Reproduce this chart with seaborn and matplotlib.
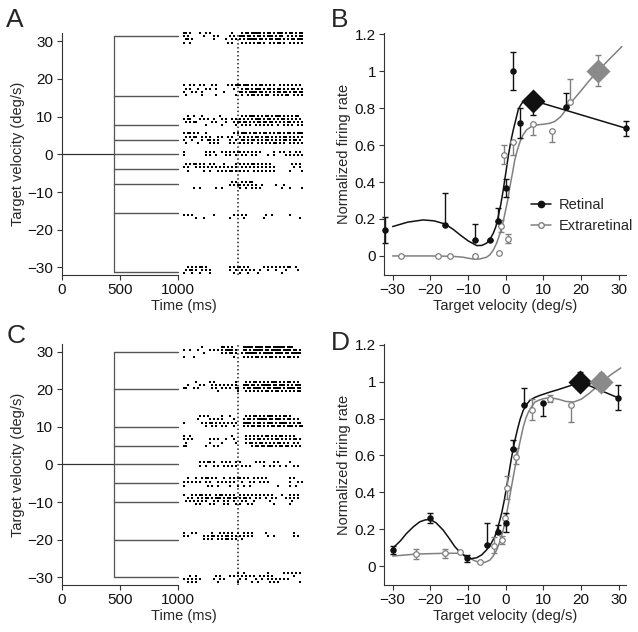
import numpy as np
import pandas as pd
import seaborn as sns
import matplotlib.pyplot as plt
from matplotlib.lines import Line2D

# stimulus traces (deg/s) and timing (ms)
vel_a = [31.3, 15.6, 7.8, 3.9, 0, -3.9, -7.8, -15.6, -31.3]
vel_c = [30, 20, 10, 5, 0, -5, -10, -20, -30]
onset_ms = 455
trace_end_ms = 1000
align_ms = 1517
spk_t0 = 1055
spk_dt = 17.2

# raster rows, panel A: row position (deg/s) and spike bins ('#' = spike)
a_row_y = [32.3, 31.4, 30.5, 29.6,
           18.3, 17.4, 16.6, 15.8,
           10.3, 9.4, 8.5, 7.7,
           5.6, 4.7, 3.8, 2.9,
           0.7, -0.2,
           -2.5, -3.4, -4.3,
           -7.2, -8.1, -9.0,
           -16.1, -17.0,
           -29.9, -30.8, -31.6]
a_row_spk = [
    "##.#....#..#.#..........#..." ".#.##.#####.#.##.#.###.#.##.#.##",
    "#.#.......#....#.#.....#.#.." "###.##.#.##.#.###.#.##..#.#.#.##",
    ".##.#..........#.....#..#.#." "#.#.#####.##.#.##.###.#.#.##.###",
    "#..#..................#.#..." ".#.#.#.#.##.#..#.#.##.#..#.#.#.#",
    "#..#.#..#.#...#.#.....#.#.##" "#.###.#.#.##.#.#.#..#.#.#.#.#.#.",
    ".#.#...#...#.#..#........#.." ".#.##.#.###.#.##.#.##.#.#.##.#.#",
    "#...#.#..#..........#......." "##.#.####.##.#.#.#.##.##.#.##.##",
    ".#.......#......#.........#." ".#..#.##.#.#.##..#.#.#.##..#.#.#",
    "..#..#...#........#........." ".#.#.###.#.#.##.#.###.#.#.#.##..",
    "#.##....#.#.#..#...#.#..#.#." "#.#.#.#.###.#.##.#.#.##.#.#.#.#.",
    ".#.#.##.......#.#....#...#.#" "#.##.#.#.##.##.##.#.#.#.##.#.#.#",
    "...........#.......#......#." ".#.#.#..#.#.#.#.#..#..#.#.#..#.#",
    "#.##.#.#...#.............#.#" ".###.#.##.#.##.#.#.##.#.##.#.###",
    ".#.#.##..#.#.#...#.#..#.#..." "#.#.#.#.##.#.##.#.#.#.##.#.#.#.#",
    "#...#....#..##.#.#.....#..#." ".##.#.##.#.#.##.#.#.#.##.#.##.#.",
    ".#.....#.....#.#.#.....#.#.." "#.#.#.#..#.#.#.#.##.#.#..#.#.#.#",
    "#..........#.#.#...#.#.#.#.#" "#.#.#.#.#.#......#..#.#..#..#.#.",
    "#..........#.#..#....#.#..#." ".#.#..#.#.....#..#.....#.#.#.#.#",
    ".#.#.##.#.#..#.#....#.....#." "#.#.#.##.#.#.#.#..........#.#.#.",
    "#.#...#.#.#.#.#.#.#.#.#.#.#." ".#.#.#.#.#.#.#.#.#.........#..#.",
    "..#.......#..#...#.#.#.##.#." "#.#.#..#.#.#.#.#.#.......#.....#",
    "........................#.#." ".#.#.##...........................",
    ".......................#.#.#" "#.#.#.#.#..#......#...#..........",
    ".....#..#.......#..#........" "#..#..#.#.#..........#...#.....#.",
    "#.#.#..........#.........#.#" ".#.#.........#..#........#......",
    "......#...#............#...." "..#.........#.................#.",
    "..#.#.#.##.#...........#.#.#" "#.#.#.......#.#.#.#.#.#.##..#...",
    ".#.##.#..#.#.#.........#..#." ".#.#.#.#..#...#...#....#.....#..",
    "#...#...#....#...........#.." "#...#....#...........#..........",
]

# raster rows, panel C
c_row_y = [31.3, 30.4, 29.5, 28.6,
           21.8, 21.0, 20.2, 19.5,
           12.9, 12.0, 11.1, 10.3,
           7.6, 6.7, 5.8, 4.9,
           0.6, -0.3,
           -3.6, -4.6, -5.6,
           -8.0, -8.8, -9.6, -10.4,
           -18.2, -19.0, -19.8,
           -28.7, -29.6, -30.4, -31.2]
c_row_spk = [
    ".........#.........##.#.#..." "..#####.####.###.######.###.....",
    "#..#...#.....#.#.#.#.####.#." "..##.#.#####.##.#####.####.##.#.",
    "..........#........#.#.##.#." ".#.######.#.#####.####.##.#####.",
    "#....#...................#.." "..#.#.#.##.#.#.##.#.#.#.##.#.#..",
    "......#......#.#..........#." "...#.#.##.#.#.#.###.#.#.##.#.#..",
    "..#.....#.#...#.#.#.#.#.#.#." "..###.##.#.#####.##.###.#.#.###.",
    "##...#.#......#.#..#.#.#..##" "..#.##.####.#.##.####.#.####.##.",
    ".................#.........#" "...#.#.#.#.#.##.#.##.#.#.#.#.##.",
    "........#.#.#......#...#...." "...#.#.##.#.#.###.#.#.##.#......",
    ".......#.....#.#.#.#.....#.." "..#.##.#.#####.##.###.#.##.#.#..",
    "#........#.#.##.#.#.#.#.#.#." "..####.#.##.#.###.#.####.#.#.##.",
    "...........#..#.#..#.#...#.." "..#.#.##.##.#.#.##.##.#.###.#.##",
    "#..#....................#..." "...#.#.#.#.#.##.#.#.##.#.#.#....",
    "#.#.#........#.#.#...#...#.." "...#.#.#.##.#.#.#.##.#.#.#.##.#.",
    ".#...........#.....#......#." "...#.##.#.##.#.#.#.##.#.#..#.#..",
    "##.........#...#.#.........." "......#.##.##.###.#.##.##.#.#.#.",
    "........#.#.##.#...#.#.#..#." "#.......#.#.#....#.#.....#.....",
    "........#..#...#.#..#.#.#.#." ".#.#.#......#..#.#..#..#...#.#..",
    "..#...#..#.##.#.#...#..#.#.#" "#.#.#..#.#.#.#...........#.#....",
    "#.#.#.#.#..#.#...#.#.#.#.#.." ".#...#.#..#.#.#..........#...#.#",
    "#...........#.#..#.....#...#" "..#..#.............#.....#..#...",
    "#...#.#.##.#.#..#.##.#.#.#.." "#.#.#.#.#.#.#.#.#....#...#.#.#..",
    "..#.#..#.#.##.#.###.#.##.##." "#.##.#..#.#..#..#.#....#.#.#.#..",
    ".#.#.#.#.#.#...#.#..#.#..#.." ".#.#...#.......#..........#.....",
    "......#.#....#.#....#.#...#." "#...#.#..........#.......#......",
    "#...#.#.......#...#.#.#.#..#" "..#.#.#......#.............#...",
    "#.#.......#.#.##.#.#.##.#.#." "#.#.#.#.......#..#.........#.#..",
    "..........#.#.#..#.#.##.#.#." ".#..............................",
    "...........................#" "..#...........#.......#.#.#.#.#.",
    "...#..#.........#.#....#.#.#" ".#.#.#.#..#.#.#.#..........#....",
    "#.#.#.#.#......#..#.#......." "#..#....#..#..#.#.#.#.#.#.......",
    "..#.#.#..........#.........#" "......#..#.....#.#.#..........#.",
]

# panel B: normalized firing rate vs target velocity
b_ret_x = [-32, -16, -8.2, -4.2, -2.1, 0, 1.8, 3.9, 16, 31.9]
b_ret_y = [0.141, 0.168, 0.085, 0.085, 0.19, 0.366, 1.003, 0.722, 0.805, 0.691]
b_ret_lo = [0.072, 0, 0, 0, 0, 0.045, 0.104, 0.085, 0, 0.041]
b_ret_hi = [0.072, 0.171, 0.087, 0, 0.072, 0.049, 0.103, 0.078, 0.079, 0.042]
b_ret_pk = [7.3, 0.841, 0.078, 0.0]  # x, y, lo, hi
b_ext_x = [-27.9, -17.9, -14.8, -8.2, -1.7, -1.27, -0.4, 0.66, 1.83, 7.3, 12.2, 17.0]
b_ext_y = [0, 0, 0, 0, 0.014, 0.162, 0.549, 0.092, 0.619, 0.713, 0.677, 0.832]
b_ext_lo = [0, 0, 0, 0, 0, 0.03, 0.053, 0.023, 0.072, 0.058, 0.058, 0]
b_ext_hi = [0, 0, 0, 0, 0, 0.033, 0.052, 0.027, 0, 0, 0, 0.126]
b_ext_pk = [24.4, 1.0, 0.08, 0.088]
b_ret_fit_x = [-30, -26, -21.9, -19, -16.1, -14, -12.1, -10, -7.7, -6.3, -5.1, -4.2, -3.3,
               -2.6, -2.0, -1.3, -0.66, 0, 0.66, 1.3, 2.0, 2.7, 3.3, 4.0, 4.6, 5.5, 7.3, 31.9]
b_ret_fit_y = [0.159, 0.183, 0.195, 0.19, 0.173, 0.145, 0.114, 0.082, 0.056, 0.057, 0.069,
               0.09, 0.123, 0.16, 0.213, 0.28, 0.357, 0.447, 0.538, 0.615, 0.682, 0.74,
               0.79, 0.818, 0.835, 0.842, 0.841, 0.691]
b_ext_fit_x = [-30, -20, -14, -11.3, -9.5, -8.2, -6.8, -5.1, -4.2, -3.3, -2.4, -1.5, -0.8,
               -0.2, 0.5, 1.1, 1.8, 2.4, 3.1, 3.8, 4.6, 5.5, 6.8, 8.2, 10, 11.7, 13, 14.5,
               16, 17.5, 20, 22, 24.4, 27, 30.8]
b_ext_fit_y = [0, 0, -0.002, -0.007, -0.014, -0.018, -0.016, -0.007, 0.006, 0.032, 0.07,
               0.123, 0.175, 0.231, 0.3, 0.375, 0.45, 0.52, 0.575, 0.619, 0.655, 0.682,
               0.7, 0.709, 0.713, 0.718, 0.728, 0.752, 0.792, 0.835, 0.895, 0.945, 1.0,
               1.055, 1.133]

# panel D
d_ret_x = [-30, -20.1, -10.2, -5.07, -2.15, 0, 1.83, 4.83, 9.8, 29.8]
d_ret_y = [0.087, 0.262, 0.042, 0.114, 0.186, 0.231, 0.633, 0.875, 0.884, 0.913]
d_ret_lo = [0.022, 0.027, 0.02, 0, 0, 0.049, 0, 0, 0.072, 0.068]
d_ret_hi = [0.023, 0.028, 0.02, 0.117, 0.036, 0.054, 0.049, 0.092, 0, 0.07]
d_ret_pk = [19.7, 1.0, 0.047, 0.052]
d_ext_x = [-23.8, -16.1, -12.0, -6.8, -3.1, -0.93, -0.2, 0.24, 2.7, 6.87, 11.7, 17.2]
d_ext_y = [0.065, 0.069, 0.074, 0.023, 0.11, 0.141, 0.262, 0.424, 0.592, 0.848, 0.908, 0.875]
d_ext_lo = [0.025, 0.025, 0, 0, 0.041, 0.02, 0, 0.058, 0.036, 0.054, 0.02, 0.094]
d_ext_hi = [0.025, 0.025, 0, 0, 0.049, 0.02, 0.027, 0.063, 0.05, 0.06, 0.02, 0]
d_ext_pk = [25.4, 0.998, 0.049, 0.05]
d_ret_fit_x = [-30, -28, -26.3, -24.5, -22.8, -21.4, -20.1, -18.5, -16.6, -15, -13.5, -12,
               -10.4, -9, -7.7, -6.4, -5.1, -4, -2.9, -2, -1.1, -0.4, 0.24, 0.9, 1.57, 2.3,
               3.05, 3.8, 4.65, 5.5, 6.4, 7.7, 9.07, 11.7, 14, 17, 19.7, 29.8]
d_ret_fit_y = [0.096, 0.135, 0.177, 0.213, 0.24, 0.25, 0.253, 0.235, 0.195, 0.15, 0.105,
               0.072, 0.047, 0.04, 0.045, 0.06, 0.087, 0.118, 0.159, 0.215, 0.285, 0.355,
               0.43, 0.51, 0.592, 0.67, 0.736, 0.795, 0.845, 0.876, 0.899, 0.915, 0.926,
               0.944, 0.958, 0.978, 1.0, 0.913]
d_ext_fit_x = [-30, -23.6, -16.1, -12.1, -10.8, -9.5, -8.2, -6.8, -5.5, -4.2, -3.3, -2.4,
               -1.5, -0.66, 0, 0.66, 1.3, 2.0, 2.7, 3.3, 4.0, 4.65, 5.3, 6.0, 6.9, 7.75, 8.8,
               10, 11.7, 14, 16, 18, 20, 22, 24, 25.4, 28, 30.5]
d_ext_fit_y = [0.054, 0.065, 0.069, 0.069, 0.058, 0.042, 0.028, 0.018, 0.02, 0.032, 0.055,
               0.087, 0.135, 0.195, 0.26, 0.33, 0.405, 0.484, 0.56, 0.628, 0.695, 0.754,
               0.8, 0.835, 0.866, 0.89, 0.9, 0.908, 0.914, 0.905, 0.893, 0.89, 0.905, 0.935,
               0.97, 0.998, 1.04, 1.075]

sns.set_style("ticks")
plt.rcParams["font.family"] = ["Liberation Sans", "DejaVu Sans"]
plt.rcParams["font.size"] = 11
plt.rcParams["axes.edgecolor"] = "#333333"
plt.rcParams["axes.linewidth"] = 0.8
plt.rcParams["xtick.major.size"] = 3.5
plt.rcParams["ytick.major.size"] = 3.5
plt.rcParams["xtick.major.pad"] = 2.5
plt.rcParams["ytick.major.pad"] = 2.5
plt.rcParams["xtick.labelsize"] = 11
plt.rcParams["ytick.labelsize"] = 11
plt.rcParams["xtick.color"] = "#333333"
plt.rcParams["ytick.color"] = "#333333"
plt.rcParams["xtick.labelcolor"] = "#111111"
plt.rcParams["ytick.labelcolor"] = "#111111"

BLACK = "#111111"
GRAY = "#808080"
GRAY_PK = "#8a8a8a"

fig = plt.figure(figsize=(6.38, 6.32), dpi=100)
ax_a = fig.add_axes([0.0967, 0.5649, 0.3818, 0.3829])
ax_b = fig.add_axes([0.6024, 0.5649, 0.3788, 0.3824])
ax_c = fig.add_axes([0.0967, 0.0744, 0.3818, 0.3813])
ax_d = fig.add_axes([0.6024, 0.0744, 0.3788, 0.3813])


def draw_raster(ax, vels, row_y, row_spk, ylim):
    # stimulus traces: fixation, then step to each target velocity
    top, bot = max(vels), min(vels)
    ax.plot([0, onset_ms], [0, 0], color="#333333", lw=0.9)
    ax.plot([onset_ms, onset_ms], [bot, top], color="#555555", lw=0.9)
    for v in vels:
        ax.plot([onset_ms, trace_end_ms], [v, v], color="#555555", lw=1.0)
    t, y = [], []
    for yy, s in zip(row_y, row_spk):
        for i, ch in enumerate(s):
            if ch == "#":
                t.append(spk_t0 + i * spk_dt)
                y.append(yy)
    df = pd.DataFrame({"t": t, "y": y})
    sns.scatterplot(data=df, x="t", y="y", marker="s", s=2.0, color="k",
                    linewidth=0, ax=ax, clip_on=False)
    ax.axvline(align_ms, color="#222222", lw=1.1, ls=(0, (1, 1.6)))
    ax.set_xlim(0, 2100)
    ax.set_ylim(*ylim)
    ax.set_xticks([0, 500, 1000])
    ax.set_yticks([-30, -20, -10, 0, 10, 20, 30])
    ax.spines["right"].set_visible(False)
    ax.spines["top"].set_visible(False)
    ax.spines["bottom"].set_bounds(0, 1000)
    ax.set_xlabel("Time (ms)", fontsize=10.5, labelpad=1)
    ax.set_ylabel("Target velocity (deg/s)", fontsize=10.5, labelpad=2)


def draw_tuning(ax, rx, ry, rlo, rhi, rpk, ex, ey, elo, ehi, epk, rfx, rfy, efx, efy):
    sns.lineplot(x=efx, y=efy, sort=False, estimator=None, color=GRAY, lw=1.1, ax=ax)
    sns.lineplot(x=rfx, y=rfy, sort=False, estimator=None, color=BLACK, lw=1.1, ax=ax)
    ax.errorbar(ex, ey, yerr=[elo, ehi], fmt="none", ecolor=GRAY, elinewidth=1,
                capsize=2.2, capthick=1, clip_on=False)
    ax.errorbar(rx, ry, yerr=[rlo, rhi], fmt="none", ecolor=BLACK, elinewidth=1,
                capsize=2.2, capthick=1, clip_on=False)
    ax.errorbar([epk[0]], [epk[1]], yerr=[[epk[2]], [epk[3]]], fmt="none", ecolor=GRAY,
                elinewidth=1, capsize=2.2, capthick=1)
    ax.errorbar([rpk[0]], [rpk[1]], yerr=[[rpk[2]], [rpk[3]]], fmt="none", ecolor=BLACK,
                elinewidth=1, capsize=2.2, capthick=1)
    sns.scatterplot(x=ex, y=ey, marker="o", s=16, facecolor="white", edgecolor=GRAY,
                    linewidth=0.9, ax=ax, zorder=4, clip_on=False)
    sns.scatterplot(x=rx, y=ry, marker="o", s=22, color=BLACK, linewidth=0,
                    ax=ax, zorder=4, clip_on=False)
    sns.scatterplot(x=[rpk[0]], y=[rpk[1]], marker="D", s=150, color=BLACK, linewidth=0,
                    ax=ax, zorder=5)
    sns.scatterplot(x=[epk[0]], y=[epk[1]], marker="D", s=150, color=GRAY_PK, linewidth=0,
                    ax=ax, zorder=5)
    ax.set_xlim(-32.2, 31.9)
    ax.set_ylim(-0.103, 1.205)
    ax.set_xticks([-30, -20, -10, 0, 10, 20, 30])
    ax.set_yticks([0, 0.2, 0.4, 0.6, 0.8, 1.0, 1.2])
    ax.set_yticklabels(["0", "0.2", "0.4", "0.6", "0.8", "1", "1.2"])
    ax.spines["right"].set_visible(False)
    ax.spines["top"].set_visible(False)
    ax.set_xlabel("Target velocity (deg/s)", fontsize=10.5, labelpad=1)
    ax.set_ylabel("Normalized firing rate", fontsize=10.5, labelpad=3)


draw_raster(ax_a, vel_a, a_row_y, a_row_spk, (-32, 32.2))
draw_raster(ax_c, vel_c, c_row_y, c_row_spk, (-32, 32))
draw_tuning(ax_b, b_ret_x, b_ret_y, b_ret_lo, b_ret_hi, b_ret_pk,
            b_ext_x, b_ext_y, b_ext_lo, b_ext_hi, b_ext_pk,
            b_ret_fit_x, b_ret_fit_y, b_ext_fit_x, b_ext_fit_y)
draw_tuning(ax_d, d_ret_x, d_ret_y, d_ret_lo, d_ret_hi, d_ret_pk,
            d_ext_x, d_ext_y, d_ext_lo, d_ext_hi, d_ext_pk,
            d_ret_fit_x, d_ret_fit_y, d_ext_fit_x, d_ext_fit_y)

handles = [
    Line2D([], [], color=BLACK, lw=1.1, marker="o", ms=4.5, mfc=BLACK, mec=BLACK),
    Line2D([], [], color=GRAY, lw=1.1, marker="o", ms=4, mfc="white", mec=GRAY),
]
ax_b.legend(handles, ["Retinal", "Extraretinal"], frameon=False, loc="upper left",
            bbox_to_anchor=(0.575, 0.35), handlelength=1.4, handletextpad=0.55,
            labelspacing=0.5, borderpad=0, fontsize=10.5)

for lab, x, y in [("A", 0.009, 0.987), ("B", 0.518, 0.987),
                  ("C", 0.011, 0.488), ("D", 0.518, 0.476)]:
    fig.text(x, y, lab, fontsize=19, ha="left", va="top")

fig.savefig("out.png", dpi=100)
